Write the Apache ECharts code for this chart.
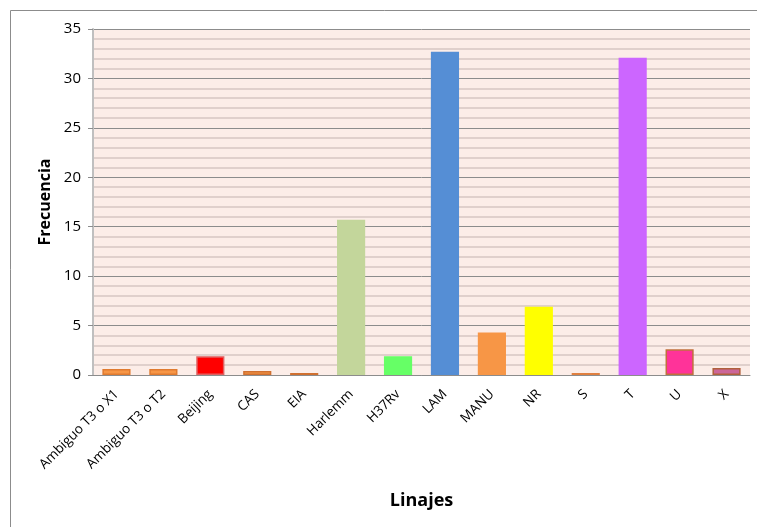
<!DOCTYPE html>
<html><head><meta charset="utf-8">
<script src="https://cdn.jsdelivr.net/npm/echarts@6/dist/echarts.min.js"></script>
<style>html,body{margin:0;padding:0;background:#fff}#c{width:757px;height:527px}</style>
</head><body><div id="c"></div>
<script>
const categories = ["Ambiguo T3 o X1","Ambiguo T3 o T2","Beijing","CAS","EIA","Harlemm","H37Rv","LAM","MANU","NR","S","T","U","X"];
const values = [0.6,0.6,1.9,0.4,0.2,15.7,1.9,32.7,4.3,6.9,0.2,32.1,2.6,0.7];
const barColors = ["#F79646","#F79646","#FF0000","#F79646","#F79646","#C3D69B","#66FF66","#558ED5","#F79646","#FFFF00","#F79646","#CC66FF","#FF3399","#CC6699"];
const borderColors = ["#E07B30","#E07B30","#E06060","#D07030","#D07030","#C3D69B","#66FF66","#558ED5","#F79646","#FFFF00","#E08040","#CC66FF","#C0703C","#B0603C"];
const yTicks = [0,5,10,15,20,25,30,35];

const chart = echarts.init(document.getElementById('c'));
chart.setOption({
  animation:false,
  backgroundColor:'#fff',
  graphic:[{type:'rect',shape:{x:10.5,y:10.5,width:760,height:540},style:{fill:null,stroke:'#8c8c8c',lineWidth:1}}],
  grid:{left:93,right:7,top:29,bottom:152,show:true,backgroundColor:'#FCEDE8',borderWidth:0},
  xAxis:{type:'category',data:categories,
    axisLine:{lineStyle:{color:'#8c8c8c'}},axisTick:{show:false},
    axisLabel:{rotate:45,interval:0,color:'#000',fontFamily:'Open Sans',fontSize:13.5,margin:17},
    name:'Linajes',nameLocation:'middle',nameGap:117,
    nameTextStyle:{fontFamily:'Open Sans',fontWeight:'bold',fontSize:18,color:'#000'}},
  yAxis:{type:'value',min:0,max:35,interval:5,
    axisLine:{show:true,lineStyle:{color:'#bfbfbf',width:2}},
    axisTick:{show:true,length:5,lineStyle:{color:'#8c8c8c'}},
    axisLabel:{color:'#000',fontFamily:'Open Sans',fontSize:15,margin:12,formatter:v=>yTicks.includes(v)?String(v):''},
    splitLine:{lineStyle:{color:'#8c8c8c',width:1}},
    minorTick:{show:false,splitNumber:5},
    minorSplitLine:{show:true,lineStyle:{color:'#d6c6c2',width:1.5}},
    name:'Frecuencia',nameLocation:'middle',nameGap:40,nameRotate:90,
    nameTextStyle:{fontFamily:'Open Sans',fontWeight:'bold',fontSize:16,color:'#000'}},
  series:[{type:'bar',barWidth:'60%',
    data:values.map((v,i)=>({value:v,itemStyle:{color:barColors[i],borderColor:borderColors[i],borderWidth:1.5}}))}]
});
</script></body></html>
